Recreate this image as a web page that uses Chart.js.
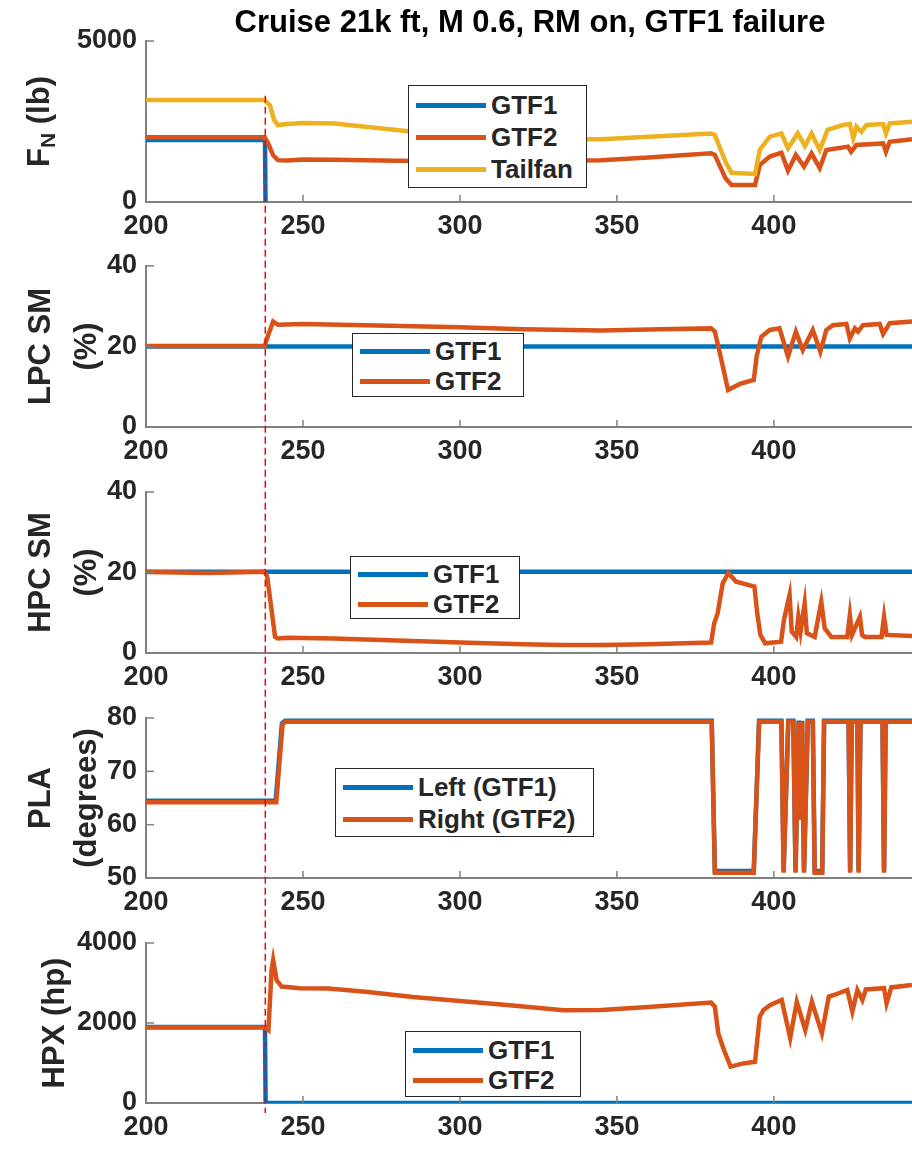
<!DOCTYPE html>
<html>
<head>
<meta charset="utf-8">
<script src="https://cdn.jsdelivr.net/npm/chart.js@4.4.0/dist/chart.umd.min.js"></script>
<style>
  body { margin: 0; background: #fff; width: 912px; height: 1159px; overflow: hidden; position: relative;
         font-family: "Liberation Sans", Arial, sans-serif; }
  canvas { position: absolute; left: 0; top: 0; }
  .leg { position: absolute; background: #fff; border: 1.5px solid #262626; box-sizing: border-box; }
  .row { position: absolute; left: 0; display: flex; align-items: center; height: 30px; }
  .ln { display: inline-block; width: 70px; height: 5px; margin-left: 7px; margin-right: 5px; }
  .tx { font-weight: bold; font-size: 26px; color: #262626; white-space: nowrap; }
</style>
</head>
<body>
<canvas id="c0" width="912" height="1159"></canvas>
<canvas id="c1" width="912" height="1159"></canvas>
<canvas id="c2" width="912" height="1159"></canvas>
<canvas id="c3" width="912" height="1159"></canvas>
<canvas id="c4" width="912" height="1159"></canvas>

<div class="leg" style="left:408px;top:85px;width:179px;height:103px;">
  <div class="row" style="top:4px"><span class="ln" style="background:#0072BD"></span><span class="tx">GTF1</span></div>
  <div class="row" style="top:36px"><span class="ln" style="background:#D95319"></span><span class="tx">GTF2</span></div>
  <div class="row" style="top:68px"><span class="ln" style="background:#EDB120"></span><span class="tx">Tailfan</span></div>
</div>
<div class="leg" style="left:352px;top:333px;width:172px;height:64px;">
  <div class="row" style="top:2px"><span class="ln" style="background:#0072BD"></span><span class="tx">GTF1</span></div>
  <div class="row" style="top:32px"><span class="ln" style="background:#D95319"></span><span class="tx">GTF2</span></div>
</div>
<div class="leg" style="left:350px;top:556px;width:170px;height:63px;">
  <div class="row" style="top:2px"><span class="ln" style="background:#0072BD"></span><span class="tx">GTF1</span></div>
  <div class="row" style="top:32px"><span class="ln" style="background:#D95319"></span><span class="tx">GTF2</span></div>
</div>
<div class="leg" style="left:335px;top:768px;width:259px;height:69px;">
  <div class="row" style="top:3px"><span class="ln" style="background:#0072BD"></span><span class="tx">Left (GTF1)</span></div>
  <div class="row" style="top:35px"><span class="ln" style="background:#D95319"></span><span class="tx">Right (GTF2)</span></div>
</div>
<div class="leg" style="left:405px;top:1031px;width:176px;height:66px;">
  <div class="row" style="top:3px"><span class="ln" style="background:#0072BD"></span><span class="tx">GTF1</span></div>
  <div class="row" style="top:33px"><span class="ln" style="background:#D95319"></span><span class="tx">GTF2</span></div>
</div>

<script>
// 故障時刻と軸範囲
const titleText = 'Cruise 21k ft, M 0.6, RM on, GTF1 failure';
const failTime = 238;
const failLineTop = 3300; // 1段目での破線の上端 (lb)
const xMin = 200;
const xMax = 444;
const xTicks = [200, 250, 300, 350, 400];

// 1段目: 推力 F_N (lb)
const fnT_GTF1 = [200, 237.9, 238.1, 444];
const fnV_GTF1 = [1925, 1925, -300, -300];
const fnT_GTF2 = [200, 237.8, 239, 240.5, 242, 245, 250, 260, 280, 300, 320, 345, 360, 380, 381.2, 384.6, 386.5, 394, 395.5, 398.7, 402.4, 404.5, 407, 409.6, 412, 414.6, 416.7, 423.6, 424.6, 426.3, 434.8, 435.7, 436.9, 444];
const fnV_GTF2 = [2010, 2010, 1800, 1450, 1300, 1290, 1320, 1310, 1280, 1260, 1270, 1300, 1380, 1510, 1460, 735, 530, 530, 1150, 1410, 1530, 975, 1460, 1100, 1510, 1050, 1615, 1720, 1560, 1770, 1820, 1560, 1870, 1950];
const fnT_Tail = [200, 237.8, 239.5, 240.8, 242, 245, 250, 260, 285, 300, 320, 340, 345, 380, 381.2, 384.6, 386.5, 394, 395.5, 398.7, 402.4, 404.5, 407.6, 409.9, 412, 414.6, 417.1, 422, 424.2, 425.3, 426.3, 427.9, 429.5, 434.8, 435.7, 436.9, 444];
const fnV_Tail = [3170, 3170, 3000, 2550, 2390, 2420, 2450, 2440, 2180, 2080, 2000, 1950, 1950, 2130, 2080, 1250, 910, 870, 1615, 2030, 2130, 1670, 2130, 1740, 2130, 1615, 2240, 2390, 2420, 1980, 2340, 2180, 2390, 2420, 2130, 2440, 2490];

// 2段目: LPC SM (%)
const lpcT_GTF1 = [200, 444];
const lpcV_GTF1 = [20, 20];
const lpcT_GTF2 = [200, 237.8, 239, 240.5, 242, 250, 270, 300, 320, 335, 345, 360, 380, 381.2, 382.8, 385.4, 389.2, 393.6, 394.5, 396, 398.7, 401.8, 404.5, 407, 409.2, 412.4, 414.8, 416.7, 418.8, 423.1, 424.2, 425.8, 426.8, 428.4, 433.7, 434.8, 436.9, 444];
const lpcV_GTF2 = [20.1, 20.1, 23, 26.2, 25.4, 25.6, 25.3, 24.8, 24.3, 24.1, 24.0, 24.2, 24.5, 23.7, 18.3, 9.2, 10.7, 11.7, 17.5, 22.4, 24.1, 24.5, 17.5, 23.7, 19.1, 24.1, 18.7, 24.1, 25.3, 25.6, 22.0, 24.5, 23.7, 25.3, 25.6, 23.1, 25.8, 26.2];

// 3段目: HPC SM (%)
const hpcT_GTF1 = [200, 444];
const hpcV_GTF1 = [20.2, 20.2];
const hpcT_GTF2 = [200, 220, 237.8, 238.6, 240, 241.1, 242, 245, 260, 280, 300, 320, 333, 345, 360, 380, 381, 382.1, 383.7, 385.5, 388, 393.8, 394.7, 395.7, 397.2, 402.3, 403.2, 405, 405.7, 407.1, 407.8, 408.5, 409.8, 410.5, 413, 415.1, 416.2, 418.3, 423.4, 424.2, 424.9, 427.4, 428.1, 429, 434.3, 435.1, 435.9, 444];
const hpcV_GTF2 = [20.1, 19.9, 20.2, 19, 10.7, 4.0, 3.6, 3.8, 3.6, 3.1, 2.6, 2.2, 2.0, 2.0, 2.2, 2.6, 7.4, 9.9, 17.3, 19.9, 17.7, 16.5, 9.9, 4.5, 2.4, 2.8, 8.2, 14.4, 5.3, 4.0, 9.0, 5.3, 12.3, 4.9, 4.0, 12.7, 6.1, 4.0, 4.0, 9.4, 4.5, 9.0, 4.5, 4.0, 4.0, 9.0, 4.5, 4.2];

// 4段目: PLA (degrees)
const plaT_Left = [200, 241.3, 243.3, 244.3, 380.2, 381.2, 393.6, 395.3, 402.4, 403.1, 404.6, 406.2, 406.9, 407.9, 408.5, 409.0, 409.6, 410.8, 412.4, 413.0, 415.4, 416.0, 423.8, 424.3, 424.8, 426.6, 427.0, 427.6, 434.6, 435.1, 435.6, 444];
const plaV_Left = [64.5, 64.5, 79.0, 79.5, 79.5, 51.3, 51.3, 79.5, 79.5, 51.3, 79.5, 79.5, 51.3, 79.5, 61.0, 79.5, 51.3, 79.5, 79.5, 51.3, 51.3, 79.5, 79.5, 51.3, 79.5, 79.5, 51.3, 79.5, 79.5, 51.3, 79.5, 79.5];
const plaT_Right = [200, 241.5, 243.5, 244.5, 380.2, 381.2, 393.6, 395.3, 402.4, 403.1, 404.6, 406.2, 406.9, 407.9, 408.5, 409.0, 409.6, 410.8, 412.4, 413.0, 415.4, 416.0, 423.8, 424.3, 424.8, 426.6, 427.0, 427.6, 434.6, 435.1, 435.6, 444];
const plaV_Right = [64.2, 64.2, 78.8, 79.3, 79.3, 51.0, 51.0, 79.3, 79.3, 51.0, 79.3, 79.3, 51.0, 79.3, 60.9, 79.3, 51.0, 79.3, 79.3, 51.0, 51.0, 79.3, 79.3, 51.0, 79.3, 79.3, 51.0, 79.3, 79.3, 51.0, 79.3, 79.3];

// 5段目: HPX (hp)
const hpxT_GTF1 = [200, 237.9, 238.1, 444];
const hpxV_GTF1 = [1900, 1900, 0, 0];
const hpxT_GTF2 = [200, 238, 239, 240, 240.5, 241.6, 243.2, 249, 258, 270, 285, 300, 315, 333, 345, 360, 380, 381.2, 382.3, 384.1, 386.2, 390.3, 394, 395.5, 396.7, 398.9, 402.5, 405.2, 407.3, 410, 412.1, 415.3, 417.5, 419.1, 423.4, 425, 426.6, 428.2, 429.3, 435.1, 435.9, 437.4, 444];
const hpxV_GTF2 = [1890, 1890, 1825, 3325, 3575, 3075, 2910, 2870, 2860, 2780, 2650, 2550, 2450, 2320, 2325, 2400, 2510, 2410, 1740, 1325, 910, 990, 1030, 2160, 2325, 2450, 2575, 1620, 2530, 1825, 2530, 1740, 2660, 2700, 2825, 2285, 2825, 2575, 2840, 2870, 2490, 2890, 2950];

// 色
const blue = '#0072BD';
const orange = '#D95319';
const yellow = '#EDB120';
const axisGray = '#808080';
const textColor = '#262626';

const pts = (t, v) => t.map((x, i) => ({x: x, y: v[i]}));
const line = (t, v, color, order) => ({
  data: pts(t, v), borderColor: color, backgroundColor: color,
  borderWidth: 4.5, pointRadius: 0, tension: 0, fill: false, order: order
});

// 内向きの目盛り
const innerTicks = {
  id: 'innerTicks',
  afterDraw(chart) {
    const {ctx, chartArea: a, scales: {x, y}} = chart;
    ctx.save();
    ctx.strokeStyle = axisGray;
    ctx.lineWidth = 1.5;
    x.ticks.forEach(t => {
      const px = x.getPixelForValue(t.value);
      ctx.beginPath(); ctx.moveTo(px, a.bottom); ctx.lineTo(px, a.bottom - 7); ctx.stroke();
    });
    y.ticks.forEach(t => {
      const py = y.getPixelForValue(t.value);
      ctx.beginPath(); ctx.moveTo(a.left, py); ctx.lineTo(a.left + 8, py); ctx.stroke();
    });
    ctx.restore();
  }
};

// 縦軸ラベル (回転、下付き文字対応)
const yTitle = {
  id: 'yTitle',
  afterDraw(chart, args, opts) {
    if (!opts.lines) return;
    const {ctx, chartArea: a} = chart;
    const cy = (a.top + a.bottom) / 2;
    opts.lines.forEach((segs, li) => {
      ctx.save();
      ctx.translate(opts.xs[li], cy);
      ctx.rotate(-Math.PI / 2);
      ctx.fillStyle = textColor;
      ctx.textBaseline = 'middle';
      ctx.textAlign = 'left';
      let total = 0;
      segs.forEach(s => { ctx.font = 'bold ' + s.size + 'px "Liberation Sans", Arial'; total += ctx.measureText(s.t).width; });
      let px = -total / 2;
      segs.forEach(s => {
        ctx.font = 'bold ' + s.size + 'px "Liberation Sans", Arial';
        ctx.fillText(s.t, px, s.dy || 0);
        px += ctx.measureText(s.t).width;
      });
      ctx.restore();
    });
  }
};

// 図タイトル
const figTitle = {
  id: 'figTitle',
  afterDraw(chart, args, opts) {
    if (!opts.text) return;
    const ctx = chart.ctx;
    ctx.save();
    ctx.fillStyle = '#000';
    ctx.font = 'bold 31px "Liberation Sans", Arial';
    ctx.textAlign = 'center';
    ctx.textBaseline = 'middle';
    ctx.fillText(opts.text, opts.x, opts.y);
    ctx.restore();
  }
};

const charts = [];

// 故障時刻の赤い破線 (全段を貫く)
const failLine = {
  id: 'failLine',
  afterDraw(chart, args, opts) {
    if (!opts.on) return;
    const x = chart.scales.x.getPixelForValue(failTime);
    const top = charts[0].scales.y.getPixelForValue(failLineTop);
    const bottom = chart.chartArea.bottom + 10;
    const ctx = chart.ctx;
    ctx.save();
    ctx.strokeStyle = '#FF0000';
    ctx.lineWidth = 1.5;
    ctx.setLineDash([7, 4]);
    ctx.beginPath(); ctx.moveTo(x, top); ctx.lineTo(x, bottom); ctx.stroke();
    ctx.restore();
  }
};

const tickFont = {family: '"Liberation Sans", Arial', size: 27, weight: 'bold'};

function makeChart(id, top, bottom, yMin, yMax, yStep, datasets, titleOpts, extra) {
  const c = new Chart(document.getElementById(id), {
    type: 'line',
    data: {datasets: datasets},
    options: {
      responsive: false,
      animation: false,
      devicePixelRatio: 1,
      events: [],
      layout: {padding: {top: top, bottom: 1159 - bottom - 40, left: 0, right: 0}},
      scales: {
        x: {
          type: 'linear', min: xMin, max: xMax,
          afterBuildTicks: s => { s.ticks = xTicks.map(v => ({value: v})); },
          afterFit: s => { s.height = 40; },
          grid: {display: false, drawTicks: false},
          border: {display: true, color: axisGray, width: 2},
          ticks: {font: tickFont, color: textColor, padding: 8, autoSkip: false, maxRotation: 0,
                  callback: v => String(v)}
        },
        y: {
          type: 'linear', min: yMin, max: yMax,
          afterFit: s => { s.width = 146; },
          grid: {display: false, drawTicks: false},
          border: {display: true, color: axisGray, width: 2},
          ticks: {font: tickFont, color: textColor, padding: 9, stepSize: yStep,
                  callback: v => String(v)}
        }
      },
      plugins: Object.assign({
        legend: {display: false},
        tooltip: {enabled: false},
        yTitle: titleOpts
      }, extra || {})
    },
    plugins: [innerTicks, yTitle, figTitle, failLine]
  });
  charts.push(c);
  return c;
}

makeChart('c0', 41, 202, 0, 5000, 5000, [
  line(fnT_GTF1, fnV_GTF1, blue, 3),
  line(fnT_GTF2, fnV_GTF2, orange, 2),
  line(fnT_Tail, fnV_Tail, yellow, 1)
], {lines: [[{t: 'F', size: 31}, {t: 'N', size: 21, dy: 9}, {t: ' (lb)', size: 31}]], xs: [40]},
  {figTitle: {text: titleText, x: 530, y: 23}});

makeChart('c1', 266, 427, 0, 40, 20, [
  line(lpcT_GTF1, lpcV_GTF1, blue, 2),
  line(lpcT_GTF2, lpcV_GTF2, orange, 1)
], {lines: [[{t: 'LPC SM', size: 31}], [{t: '(%)', size: 31}]], xs: [41, 87]});

makeChart('c2', 492, 653, 0, 40, 20, [
  line(hpcT_GTF1, hpcV_GTF1, blue, 2),
  line(hpcT_GTF2, hpcV_GTF2, orange, 1)
], {lines: [[{t: 'HPC SM', size: 31}], [{t: '(%)', size: 31}]], xs: [41, 87]});

makeChart('c3', 718, 878, 50, 80, 10, [
  line(plaT_Left, plaV_Left, blue, 2),
  line(plaT_Right, plaV_Right, orange, 1)
], {lines: [[{t: 'PLA', size: 31}], [{t: '(degrees)', size: 31}]], xs: [41, 87]});

makeChart('c4', 943, 1103, 0, 4000, 2000, [
  line(hpxT_GTF1, hpxV_GTF1, blue, 2),
  line(hpxT_GTF2, hpxV_GTF2, orange, 1)
], {lines: [[{t: 'HPX (hp)', size: 31}]], xs: [55]},
  {failLine: {on: true}});
</script>
</body>
</html>
